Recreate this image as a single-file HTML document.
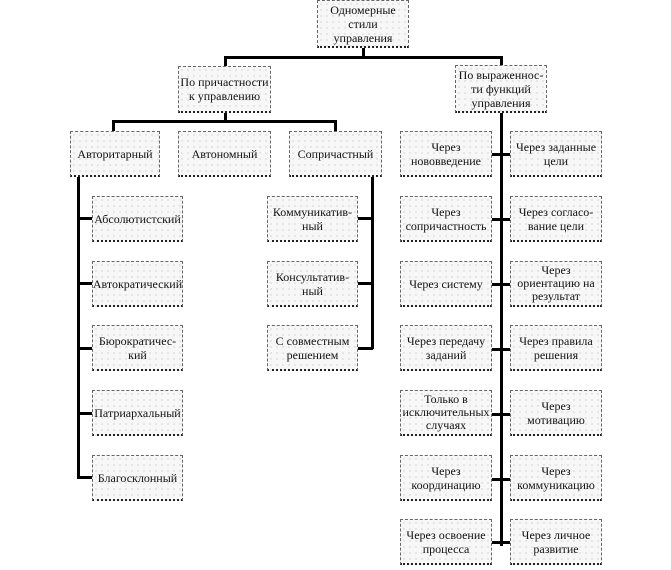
<!DOCTYPE html>
<html><head><meta charset="utf-8"><style>
body{margin:0;width:671px;height:570px;background:#fff;position:relative;overflow:hidden;font-family:"Liberation Serif",serif;}
.b{position:absolute;box-sizing:border-box;border:1px dashed #666;border-bottom:2px dotted #222;background-color:#f7f7f7;background-image:radial-gradient(#bbb 0.6px,transparent 0.8px);background-size:6px 6px;display:flex;align-items:center;justify-content:center;text-align:center;font-size:12px;line-height:14px;color:#111;}
.l{position:absolute;background:#000;}
</style></head><body>
<div class="l" style="left:362px;top:47px;width:3px;height:12px"></div>
<div class="l" style="left:224px;top:56px;width:279px;height:3px"></div>
<div class="l" style="left:224px;top:56px;width:3px;height:11px"></div>
<div class="l" style="left:500px;top:56px;width:3px;height:11px"></div>
<div class="l" style="left:224px;top:112px;width:3px;height:11px"></div>
<div class="l" style="left:112px;top:120px;width:225px;height:3px"></div>
<div class="l" style="left:112px;top:120px;width:3px;height:12px"></div>
<div class="l" style="left:334px;top:120px;width:3px;height:12px"></div>
<div class="l" style="left:77px;top:176px;width:3px;height:303px"></div>
<div class="l" style="left:371px;top:176px;width:3px;height:173px"></div>
<div class="l" style="left:500px;top:112px;width:3px;height:434px"></div>
<div class="l" style="left:77px;top:217px;width:16px;height:3px"></div>
<div class="l" style="left:77px;top:282px;width:16px;height:3px"></div>
<div class="l" style="left:77px;top:347px;width:16px;height:3px"></div>
<div class="l" style="left:77px;top:412px;width:16px;height:3px"></div>
<div class="l" style="left:77px;top:476px;width:16px;height:3px"></div>
<div class="l" style="left:357px;top:217px;width:16px;height:3px"></div>
<div class="l" style="left:357px;top:282px;width:16px;height:3px"></div>
<div class="l" style="left:357px;top:347px;width:16px;height:3px"></div>
<div class="l" style="left:491px;top:153px;width:20px;height:3px"></div>
<div class="l" style="left:491px;top:218px;width:20px;height:3px"></div>
<div class="l" style="left:491px;top:283px;width:20px;height:3px"></div>
<div class="l" style="left:491px;top:348px;width:20px;height:3px"></div>
<div class="l" style="left:491px;top:413px;width:20px;height:3px"></div>
<div class="l" style="left:491px;top:478px;width:20px;height:3px"></div>
<div class="l" style="left:491px;top:541px;width:20px;height:3px"></div>
<div class="b" style="left:317px;top:0;width:92px;height:48px">Одномерные<br>стили<br>управления</div>
<div class="b" style="left:178px;top:66px;width:93px;height:47px">По причастности<br>к управлению</div>
<div class="b" style="left:455px;top:65px;width:92px;height:48px">По выраженнос-<br>ти функций<br>управления</div>
<div class="b" style="left:70px;top:131px;width:90px;height:46px">Авторитарный</div>
<div class="b" style="left:178px;top:131px;width:93px;height:46px">Автономный</div>
<div class="b" style="left:289px;top:131px;width:93px;height:46px">Сопричастный</div>
<div class="b" style="left:92px;top:196px;width:91px;height:46px">Абсолютистский</div>
<div class="b" style="left:92px;top:261px;width:91px;height:46px">Автократический</div>
<div class="b" style="left:92px;top:325px;width:91px;height:46px">Бюрократичес-<br>кий</div>
<div class="b" style="left:92px;top:390px;width:91px;height:46px">Патриархальный</div>
<div class="b" style="left:92px;top:455px;width:91px;height:46px">Благосклонный</div>
<div class="b" style="left:267px;top:196px;width:91px;height:46px">Коммуникатив-<br>ный</div>
<div class="b" style="left:267px;top:261px;width:91px;height:46px">Консультатив-<br>ный</div>
<div class="b" style="left:267px;top:325px;width:91px;height:46px">С совместным<br>решением</div>
<div class="b" style="left:400px;top:131px;width:92px;height:46px">Через<br>нововведение</div>
<div class="b" style="left:510px;top:131px;width:92px;height:46px">Через заданные<br>цели</div>
<div class="b" style="left:400px;top:196px;width:92px;height:46px">Через<br>сопричастность</div>
<div class="b" style="left:510px;top:196px;width:92px;height:46px">Через согласо-<br>вание цели</div>
<div class="b" style="left:400px;top:261px;width:92px;height:46px">Через систему</div>
<div class="b" style="left:510px;top:261px;width:92px;height:46px;line-height:13px">Через<br>ориентацию на<br>результат</div>
<div class="b" style="left:400px;top:325px;width:92px;height:46px">Через передачу<br>заданий</div>
<div class="b" style="left:510px;top:325px;width:92px;height:46px">Через правила<br>решения</div>
<div class="b" style="left:400px;top:390px;width:92px;height:46px;line-height:13px">Только в<br>исключительных<br>случаях</div>
<div class="b" style="left:510px;top:390px;width:92px;height:46px">Через<br>мотивацию</div>
<div class="b" style="left:400px;top:455px;width:92px;height:46px">Через<br>координацию</div>
<div class="b" style="left:510px;top:455px;width:92px;height:46px">Через<br>коммуникацию</div>
<div class="b" style="left:400px;top:519px;width:92px;height:46px">Через освоение<br>процесса</div>
<div class="b" style="left:510px;top:519px;width:92px;height:46px">Через личное<br>развитие</div>
</body></html>
